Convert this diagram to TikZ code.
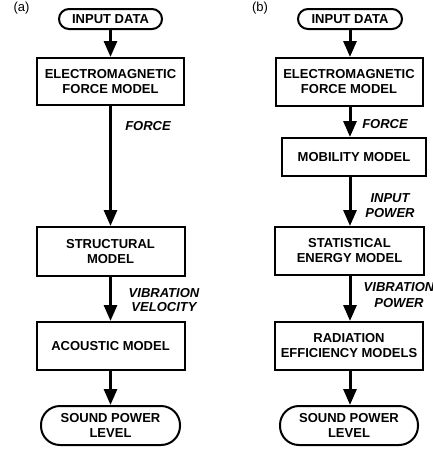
\documentclass[tikz,border=0pt]{standalone}
\usepackage{fontspec}
\setmainfont{Liberation Sans}
\usetikzlibrary{arrows.meta}
\begin{document}
\begin{tikzpicture}[x=1pt,y=-1pt,
  box/.style={draw,line width=2pt,align=center,inner sep=0pt,
    font=\bfseries\fontsize{13}{15}\selectfont},
  term/.style={box,rounded corners=#1},
  flow/.style={line width=3pt,-{Triangle[length=16pt,width=13pt]}},
  lab/.style={font=\bfseries\itshape\fontsize{13}{15}\selectfont,align=center,inner sep=0pt},
  tag/.style={font=\fontsize{13}{15}\selectfont,inner sep=0pt}]
\useasboundingbox (0,0) rectangle (433,450);
% (a)
\node[tag] (ta) at (21.5,8.5) {(a)};
\node[term=10pt,minimum width=103pt,minimum height=20pt] (ina) at (110.5,19) {INPUT DATA};
\node[box,minimum width=147pt,minimum height=47pt] (ema) at (110.5,81.5) {ELECTROMAGNETIC\\FORCE MODEL};
\node[box,minimum width=148pt,minimum height=49pt] (sta) at (110.5,251.5) {STRUCTURAL\\MODEL};
\node[box,minimum width=148pt,minimum height=48pt] (aca) at (110.5,346) {ACOUSTIC MODEL};
\node[term=19pt,minimum width=139pt,minimum height=39pt] (spa) at (110.5,425.5) {SOUND POWER\\LEVEL};
\draw[flow] (ina) -- (ema);
\draw[flow] (ema) -- (sta);
\draw[flow] (sta) -- (aca);
\draw[flow] (aca) -- (spa);
\node[lab] (la1) at (148,126) {FORCE};
\node[lab] (la2) at (164,300) {VIBRATION\\[-1pt]VELOCITY};
% (b)
\node[tag] (tb) at (260,8.5) {(b)};
\node[term=10pt,minimum width=104pt,minimum height=20pt] (inb) at (350,19) {INPUT DATA};
\node[box,minimum width=147pt,minimum height=48pt] (emb) at (349,82) {ELECTROMAGNETIC\\FORCE MODEL};
\node[box,minimum width=144pt,minimum height=38pt] (mob) at (354,157) {MOBILITY MODEL};
\node[box,minimum width=149pt,minimum height=48pt] (seb) at (349.5,251) {STATISTICAL\\ENERGY MODEL};
\node[box,minimum width=148pt,minimum height=48pt] (rab) at (349,346) {RADIATION\\EFFICIENCY MODELS};
\node[term=19pt,minimum width=138pt,minimum height=39pt] (spb) at (349,425.5) {SOUND POWER\\LEVEL};
\coordinate (xb) at (350,0);
\draw[flow] (inb.south) -- (xb |- emb.north);
\draw[flow] (xb |- emb.south) -- (xb |- mob.north);
\draw[flow] (xb |- mob.south) -- (xb |- seb.north);
\draw[flow] (xb |- seb.south) -- (xb |- rab.north);
\draw[flow] (xb |- rab.south) -- (xb |- spb.north);
\node[lab] (lb1) at (385,124) {FORCE};
\node[lab] (lb2) at (390,205.5) {INPUT\\POWER};
\node[lab] (lb3) at (399,295) {VIBRATION\\[1pt]POWER};
\end{tikzpicture}
\end{document}
